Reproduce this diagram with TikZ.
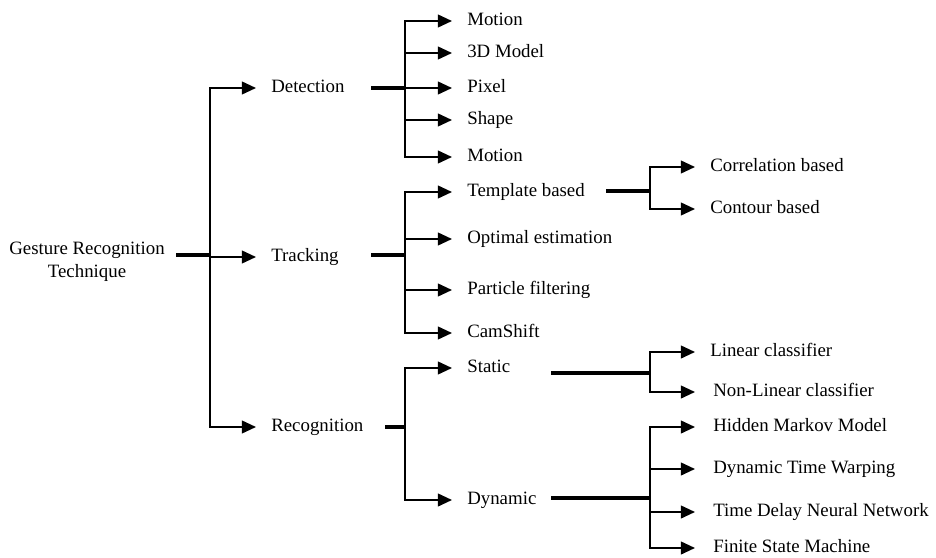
\documentclass[tikz,border=0pt]{standalone}
\usepackage{fontspec}
\setmainfont{Liberation Serif}
\usetikzlibrary{arrows.meta,positioning}

\begin{document}
\begin{tikzpicture}[x=0.025cm,y=-0.025cm,font=\fontsize{13.4}{16.5}\selectfont,>={Triangle[length=10pt,width=9pt]},
  br/.style={line width=1.4pt,->},stub/.style={line width=3pt},
  lbl/.style={anchor=west,inner xsep=0.375cm,inner ysep=0pt,text height=1.5ex,text depth=.25ex}]
\useasboundingbox (0,0) rectangle (936,558);
% root and first level
\node[align=center] (gr) at (87,262) {Gesture Recognition\\Technique};
\node[lbl] (det) at (256,88) {Detection};\node[lbl] (trk) at (256,257) {Tracking};\node[lbl] (rec) at (256,427) {Recognition};
\coordinate (s0) at (176,255);\coordinate (j0) at (210,255);
\draw[stub] (s0)--(j0);
\foreach \c in {det,trk,rec} \draw[br] (j0) |- (\c.west);
% detection
\node[lbl] (mot1) at (452,21) {Motion};\node[lbl] (mdl) at (452,53) {3D Model};\node[lbl] (pix) at (452,88) {Pixel};
\node[lbl] (shp) at (452,120) {Shape};\node[lbl] (mot2) at (452,157) {Motion};
\coordinate (s1) at (371,88);\coordinate (j1) at (405,88);
\draw[stub] (s1)--(j1);
\foreach \c in {mot1,mdl,pix,shp,mot2} \draw[br] (j1) |- (\c.west);
% tracking
\node[lbl] (tmp) at (452,192) {Template based};\node[lbl] (opt) at (452,239) {Optimal estimation};
\node[lbl] (par) at (452,290) {Particle filtering};\node[lbl] (cam) at (452,333) {CamShift};
\coordinate (s2) at (371,255);\coordinate (j2) at (405,255);
\draw[stub] (s2)--(j2);
\foreach \c in {tmp,opt,par,cam} \draw[br] (j2) |- (\c.west);
\node[lbl] (cor) at (695,167) {Correlation based};\node[lbl] (con) at (695,209) {Contour based};
\coordinate (s4) at (606,191);\coordinate (j4) at (650,191);
\draw[stub] (s4)--(j4);
\foreach \c in {cor,con} \draw[br] (j4) |- (\c.west);
% recognition
\node[lbl] (sta) at (452,368) {Static};\node[lbl] (dyn) at (452,500) {Dynamic};
\coordinate (s3) at (385,427);\coordinate (j3) at (405,427);
\draw[stub] (s3)--(j3);
\foreach \c in {sta,dyn} \draw[br] (j3) |- (\c.west);
\node[lbl] (lin) at (695,352) {Linear classifier};\node[lbl] (nlin) at (698,392) {Non-Linear classifier};
\coordinate (s5) at (551,373);\coordinate (j5) at (650,373);
\draw[stub] (s5)--(j5);
\draw[br] (j5) |- (lin.west);\draw[br] (j5) |- ([xshift=-3*0.025cm]nlin.west);
\node[lbl] (hmm) at (698,427) {Hidden Markov Model};\node[lbl] (dtw) at (698,469) {Dynamic Time Warping};
\node[lbl] (tdnn) at (698,512) {Time Delay Neural Network};\node[lbl] (fsm) at (698,548) {Finite State Machine};
\coordinate (s6) at (551,498);\coordinate (j6) at (650,498);
\draw[stub] (s6)--(j6);
\foreach \c in {hmm,dtw,tdnn,fsm} \draw[br] (j6) |- ([xshift=-3*0.025cm]\c.west);
\end{tikzpicture}
\end{document}
